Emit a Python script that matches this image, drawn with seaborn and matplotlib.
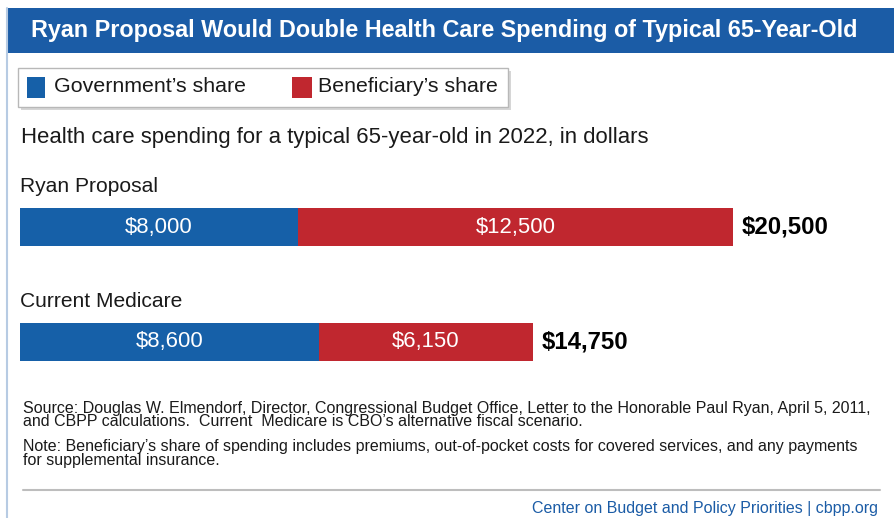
import matplotlib
matplotlib.use("Agg")
import matplotlib.pyplot as plt
from matplotlib.patches import Rectangle
import seaborn as sns
import pandas as pd

categories = ["Ryan Proposal", "Current Medicare"]
government = [8000, 8600]
beneficiary = [12500, 6150]
totals = [20500, 14750]
series_names = ["Government\u2019s share", "Beneficiary\u2019s share"]

BLUE = "#1660a8"
RED = "#c0272f"
TITLE_BLUE = "#1b5ca6"

sns.set_theme(style="white")
plt.rcParams["font.family"] = ["Liberation Sans", "DejaVu Sans"]

W, H = 894, 518
fig = plt.figure(figsize=(W / 100, H / 100), dpi=100)
fig.patch.set_facecolor("white")

def px(x, y):
    return x / W, 1 - y / H

groups = []  # (list of texts, reference text, target width px)

# left border line
fig.add_artist(plt.Line2D([7 / W, 7 / W], [0, 1 - 8 / H], transform=fig.transFigure,
                          color="#b7cbe3", linewidth=1.5))
# title bar
fig.add_artist(Rectangle(px(7, 53), 887 / W, 45 / H, transform=fig.transFigure,
                         facecolor=TITLE_BLUE, edgecolor="none"))
t = fig.text(*px(444, 31), "Ryan Proposal Would Double Health Care Spending of Typical 65-Year-Old",
             color="white", fontsize=17, fontweight="bold", ha="center", va="center")
groups.append(([t], t, 828))

# legend box with shadow
fig.add_artist(Rectangle(px(21, 110), 490 / W, 39 / H, transform=fig.transFigure,
                         facecolor="#d6d6d6", edgecolor="none"))
fig.add_artist(Rectangle(px(18, 107), 490 / W, 39 / H, transform=fig.transFigure,
                         facecolor="white", edgecolor="#b8b8b8", linewidth=1))
fig.add_artist(Rectangle(px(27, 98), 18 / W, 21 / H, transform=fig.transFigure,
                         facecolor=BLUE, edgecolor="none"))
l1 = fig.text(*px(54, 87), series_names[0], fontsize=17, va="center", ha="left", color="#1a1a1a")
fig.add_artist(Rectangle(px(292, 98), 20 / W, 21 / H, transform=fig.transFigure,
                         facecolor=RED, edgecolor="none"))
l2 = fig.text(*px(318, 87), series_names[1], fontsize=17, va="center", ha="left", color="#1a1a1a")
groups.append(([l1, l2], l1, 192))

t = fig.text(*px(21, 137), "Health care spending for a typical 65-year-old in 2022, in dollars",
             fontsize=16, va="center", ha="left", color="#1a1a1a")
groups.append(([t], t, 628))

# bars axes
left, right, top, bottom = 20, 880, 170, 380
ax = fig.add_axes([left / W, 1 - bottom / H, (right - left) / W, (bottom - top) / H])
df = pd.DataFrame({"category": categories, "government": government,
                   "beneficiary": beneficiary, "total": totals})
sns.barplot(data=df, y="category", x="total", color=RED, orient="h", ax=ax,
            width=0.33, saturation=1, edgecolor="none")
sns.barplot(data=df, y="category", x="government", color=BLUE, orient="h", ax=ax,
            width=0.33, saturation=1, edgecolor="none")
scale = 34.78 / 1000
ax.set_xlim(0, (right - left) / scale)
ax.set_ylim(1 + (bottom - 342) / 115, -(227 - top) / 115)
ax.axis("off")

cat_texts, seg_texts, tot_texts = [], [], []
for i, cat in enumerate(categories):
    g, b, tt = government[i], beneficiary[i], totals[i]
    cat_texts.append(ax.text(0, i - 0.35, cat, fontsize=16, ha="left", va="center",
                             color="#1a1a1a"))
    seg_texts.append(ax.text(g / 2, i, f"${g:,}", fontsize=16, ha="center", va="center",
                             color="white"))
    seg_texts.append(ax.text(g + b / 2, i, f"${b:,}", fontsize=16, ha="center", va="center",
                             color="white"))
    tot_texts.append(ax.text(tt + 250, i, f"${tt:,}", fontsize=17, fontweight="bold",
                             ha="left", va="center", color="black"))
groups.append((cat_texts, cat_texts[1], 162))
groups.append((seg_texts, seg_texts[1], 80))
groups.append((tot_texts, tot_texts[0], 87))

# footnotes
fn = dict(fontsize=10.5, va="center", ha="left", color="#1a1a1a")
f1 = fig.text(*px(23, 408), "Source: Douglas W. Elmendorf, Director, Congressional Budget Office, Letter to the Honorable Paul Ryan, April 5, 2011,", **fn)
f2 = fig.text(*px(23, 422), "and CBPP calculations.  Current  Medicare is CBO\u2019s alternative fiscal scenario.", **fn)
f3 = fig.text(*px(23, 446), "Note: Beneficiary\u2019s share of spending includes premiums, out-of-pocket costs for covered services, and any payments", **fn)
f4 = fig.text(*px(23, 461), "for supplemental insurance.", **fn)
groups.append(([f1, f2, f3, f4], f1, 843))

fig.add_artist(plt.Line2D([23 / W, 880 / W], [1 - 490 / H, 1 - 490 / H],
                          transform=fig.transFigure, color="#bdbdbd", linewidth=1.5))
t = fig.text(*px(878, 508), "Center on Budget and Policy Priorities | cbpp.org",
             fontsize=11, va="center", ha="right", color=TITLE_BLUE)
groups.append(([t], t, 345))

# size text groups so their widths match the reference
renderer = fig.canvas.get_renderer()
for _ in range(2):
    for members, ref, w in groups:
        bw = ref.get_window_extent(renderer).width
        if bw > 0:
            size = ref.get_fontsize() * w / bw
            for m in members:
                m.set_fontsize(size)

fig.savefig("out.png", dpi=100)
